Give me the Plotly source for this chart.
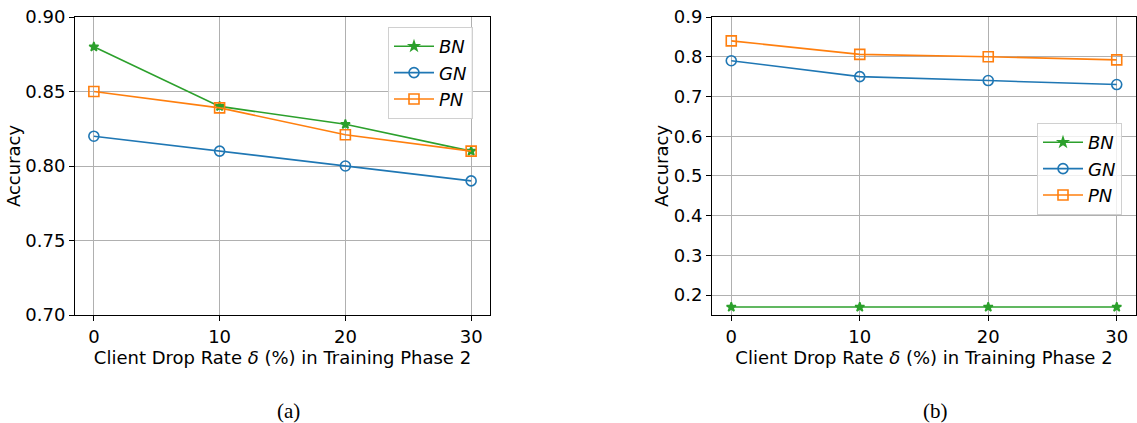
import plotly.graph_objects as go

drop_rates = [0, 10, 20, 30]

# Panel (a)
a_bn = [0.88, 0.84, 0.828, 0.81]
a_gn = [0.82, 0.81, 0.80, 0.79]
a_pn = [0.85, 0.839, 0.821, 0.81]

# Panel (b)
b_bn = [0.17, 0.17, 0.17, 0.17]
b_gn = [0.79, 0.75, 0.74, 0.73]
b_pn = [0.84, 0.806, 0.80, 0.792]

a_yticks = [0.70, 0.75, 0.80, 0.85, 0.90]
b_yticks = [0.2, 0.3, 0.4, 0.5, 0.6, 0.7, 0.8, 0.9]
xticks = [0, 10, 20, 30]

W, H = 1137, 423
GREEN, BLUE, ORANGE = "#2ca02c", "#1f77b4", "#ff7f0e"
FONT = "DejaVu Sans"

fig = go.Figure()

def add_series(xa, ya, vals, name, color, symbol, size, legend):
    fig.add_trace(go.Scatter(
        x=drop_rates, y=vals, mode="lines+markers", name=f"<i>{name}</i>",
        xaxis=xa, yaxis=ya, legend=legend,
        line=dict(color=color, width=1.6),
        marker=dict(symbol=symbol, size=size, color=color,
                    line=dict(color=color, width=1.6)),
    ))

add_series("x", "y", a_bn, "BN", GREEN, "star", 7, "legend")
add_series("x", "y", a_gn, "GN", BLUE, "circle-open", 10, "legend")
add_series("x", "y", a_pn, "PN", ORANGE, "square-open", 10, "legend")
add_series("x2", "y2", b_bn, "BN", GREEN, "star", 7, "legend2")
add_series("x2", "y2", b_gn, "GN", BLUE, "circle-open", 10, "legend2")
add_series("x2", "y2", b_pn, "PN", ORANGE, "square-open", 10, "legend2")

ydom = [1 - 315 / H, 1 - 17 / H]
axis_common = dict(
    showline=True, mirror=True, linecolor="black", linewidth=1,
    showgrid=True, gridcolor="#b0b0b0", gridwidth=1,
    ticks="outside", ticklen=5, tickcolor="black",
    tickfont=dict(family=FONT, size=18, color="black"),
    zeroline=False, automargin=False,
)
title_font = dict(family=FONT, size=18, color="black")
xtitle = "Client Drop Rate <i>δ</i> (%) in Training Phase 2"

fig.update_layout(
    width=W, height=H,
    margin=dict(l=0, r=0, t=0, b=0),
    paper_bgcolor="white", plot_bgcolor="white",
    xaxis=dict(domain=[75 / W, 490 / W], range=[-1.5, 31.5], tickvals=xticks,
               title=dict(text=xtitle, font=title_font, standoff=0),
               anchor="y", **axis_common),
    yaxis=dict(domain=ydom, range=[0.70, 0.90], tickvals=a_yticks, tickformat=".2f",
               title=dict(text="Accuracy", font=title_font, standoff=0),
               anchor="x", **axis_common),
    xaxis2=dict(domain=[712 / W, 1136 / W], range=[-1.5, 31.5], tickvals=xticks,
                title=dict(text=xtitle, font=title_font, standoff=0),
                anchor="y2", **axis_common),
    yaxis2=dict(domain=ydom, range=[0.15, 0.90], tickvals=b_yticks, tickformat=".1f",
                title=dict(text="Accuracy", font=title_font, standoff=0),
                anchor="x2", **axis_common),
    legend=dict(x=388 / W, y=1 - 27 / H, xanchor="left", yanchor="top",
                bgcolor="rgba(255,255,255,0.8)", bordercolor="#d0d0d0", borderwidth=1,
                font=dict(family=FONT, size=18, color="black"), tracegroupgap=0,
                itemwidth=40),
    legend2=dict(x=1037 / W, y=1 - 123 / H, xanchor="left", yanchor="top",
                 bgcolor="rgba(255,255,255,0.8)", bordercolor="#d0d0d0", borderwidth=1,
                 font=dict(family=FONT, size=18, color="black"), tracegroupgap=0,
                 itemwidth=40),
    annotations=[
        dict(text="(a)", x=288 / W, y=1 - 411 / H, xref="paper", yref="paper",
             xanchor="center", yanchor="middle",
             showarrow=False, font=dict(family="Liberation Serif", size=21, color="black")),
        dict(text="(b)", x=935 / W, y=1 - 411 / H, xref="paper", yref="paper",
             xanchor="center", yanchor="middle",
             showarrow=False, font=dict(family="Liberation Serif", size=21, color="black")),
    ],
)

fig.write_html("out.html", config={"displayModeBar": False},
               post_script="document.body.style.margin='0';document.body.style.overflow='hidden';")
